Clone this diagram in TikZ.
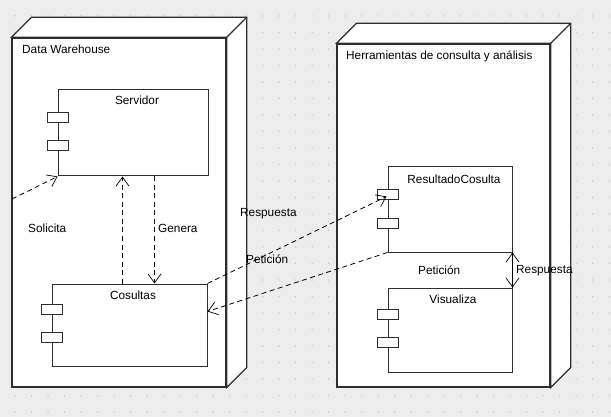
\documentclass[tikz,border=0pt]{standalone}
\usepackage{fontspec}
\setmainfont{Liberation Sans}
\usetikzlibrary{arrows.meta,calc}
\definecolor{canvas}{HTML}{EDEDED}
\definecolor{griddot}{HTML}{C6C6C6}
\definecolor{ink}{HTML}{2E2E2E}
\begin{document}
\begin{tikzpicture}[x=1pt,y=-1pt,
  front/.style={draw=ink, line width=1.3pt, fill=white, rectangle, inner sep=0pt},
  sidewall/.style={draw=ink, line width=1.3pt, fill=white, line join=miter},
  comp/.style={draw=ink, line width=1pt, fill=white, rectangle, inner sep=0pt},
  port/.style={draw=ink, line width=0.9pt, fill=white, rectangle,
    minimum width=21pt, minimum height=10pt, inner sep=0pt},
  lbl/.style={font=\fontsize{11.8}{14}\selectfont, inner sep=0pt, text=black},
  dep/.style={draw=black, line width=0.8pt, dash pattern=on 5pt off 3.5pt,
    -{Straight Barb[length=9pt,width=13pt,line width=0.7pt]}}
]
% canvas and dotted grid
\fill[canvas] (0,0) rectangle (611,417);
\useasboundingbox (0,0) rectangle (611,417);
\foreach \i in {0,...,36}
  \foreach \j in {0,...,24}
    \fill[griddot] (15+16.5*\i, 16+16.5*\j) circle (0.75pt);

% ---- node: Data Warehouse ----
\node[front, minimum width=214pt, minimum height=349pt] (dw) at (119,212.5) {};
\filldraw[sidewall] (dw.north west) -- ++(20,-20) -- ($(dw.north east)+(20,-20)$)
  -- ($(dw.south east)+(20,-20)$) -- (dw.south east) -- (dw.north east) -- cycle;
\draw[ink, line width=1.3pt] (dw.north east) -- ++(20,-20);
\node[lbl, anchor=base west] (dwlbl) at (22,54) {Data Warehouse};

% ---- node: Herramientas de consulta y análisis ----
\node[front, minimum width=213pt, minimum height=343pt] (ht) at (443.5,215.5) {};
\filldraw[sidewall] (ht.north west) -- ++(20,-20) -- ($(ht.north east)+(20,-20)$)
  -- ($(ht.south east)+(20,-20)$) -- (ht.south east) -- (ht.north east) -- cycle;
\draw[ink, line width=1.3pt] (ht.north east) -- ++(20,-20);
\node[lbl, anchor=base west] (htlbl) at (346,60) {Herramientas de consulta y análisis};

% ---- components ----
\node[comp, minimum width=150pt, minimum height=86pt] (srv) at (133,133) {};
\node[port] (srvp1) at ($(srv.north west)+(0,28)$) {};
\node[port] (srvp2) at ($(srv.north west)+(0,56)$) {};
\node[lbl, anchor=base] (srvlbl) at (137,105) {Servidor};

\node[comp, minimum width=155pt, minimum height=82pt] (cos) at (129.5,325) {};
\node[port] (cosp1) at ($(cos.north west)+(0,26)$) {};
\node[port] (cosp2) at ($(cos.north west)+(0,54)$) {};
\node[lbl, anchor=base] (coslbl) at (133,299) {Cosultas};

\node[comp, minimum width=124pt, minimum height=85pt] (res) at (450,209.5) {};
\node[port] (resp1) at ($(res.north west)+(0,28)$) {};
\node[port] (resp2) at ($(res.north west)+(0,57)$) {};
\node[lbl, anchor=base] (reslbl) at (454,184) {ResultadoCosulta};

\node[comp, minimum width=124pt, minimum height=84pt] (vis) at (450,330) {};
\node[port] (visp1) at ($(vis.north west)+(0,26.5)$) {};
\node[port] (visp2) at ($(vis.north west)+(0,55)$) {};
\node[lbl, anchor=base] (vislbl) at (453,303) {Visualiza};

% ---- dependencies ----
\coordinate (solfrom) at (12,199);
\draw[dep] (solfrom) -- (srv.south west);
\draw[dep] ($(cos.north west)+(71,0)$) -- ($(srv.south west)+(65,0)$);
\draw[dep] ($(srv.south west)+(97,0)$) -- ($(cos.north west)+(103,0)$);
\draw[dep] (cos.north east) -- ($(resp1.center)+(-1,2)$);
\draw[dep] (res.south west) -- ($(cos.north east)+(0,28)$);
\draw[dep] (vis.north east) -- (res.south east);
\draw[dep] (res.south east) -- (vis.north east);

% ---- dependency labels ----
\node[lbl, anchor=base west] (solicita) at (28,233) {Solicita};
\node[lbl, anchor=base west] (genera) at (158,233) {Genera};
\node[lbl, anchor=base west] (resp) at (240,217) {Respuesta};
\node[lbl, anchor=base west] (pet) at (246,263) {Petición};
\node[lbl, anchor=base west] (pet2) at (418,274) {Petición};
\node[lbl, anchor=base west] (resp2) at (516,273) {Respuesta};
\end{tikzpicture}
\end{document}
